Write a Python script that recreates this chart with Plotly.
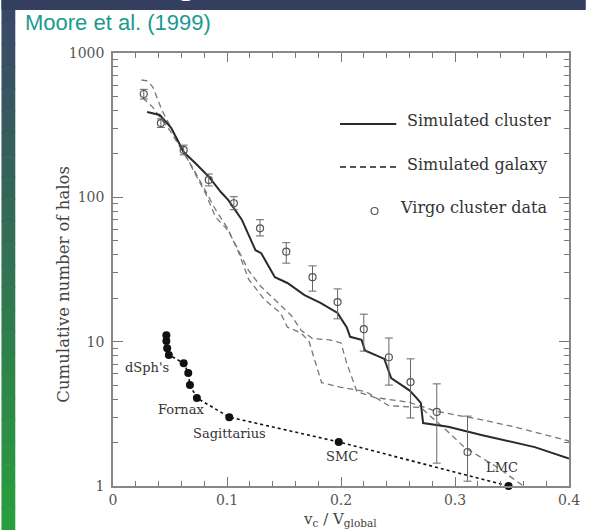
import plotly.graph_objects as go

# ---------------- data ----------------
virgo_x = [0.027, 0.042, 0.062, 0.084, 0.106, 0.129, 0.152, 0.175, 0.197, 0.220, 0.242, 0.261, 0.284, 0.311]
virgo_y = [520, 327, 213, 132, 91, 61, 42, 28, 18.8, 12.2, 7.8, 5.25, 3.26, 1.72]
virgo_hi = [560, 350, 230, 145, 101, 70, 48.5, 33.5, 23.2, 15.5, 10.6, 7.6, 5.1, 3.05]
virgo_lo = [480, 305, 197, 120, 82, 54, 35, 22.4, 14.4, 8.6, 5.0, 2.96, 1.44, 1.08]

cluster_x = [0.030, 0.041, 0.051, 0.062, 0.073, 0.084, 0.095, 0.101, 0.113, 0.125, 0.130, 0.142,
             0.153, 0.168, 0.182, 0.197, 0.2025, 0.205, 0.208, 0.218, 0.221, 0.238, 0.244, 0.260,
             0.266, 0.270, 0.272, 0.294, 0.324, 0.370, 0.400]
cluster_y = [390, 372, 303, 206, 170, 139, 108, 96, 70, 43, 41, 28,
             25.5, 21, 18.6, 15.8, 13.5, 12.6, 10.8, 10.3, 8.7, 7.6, 5.6, 4.6,
             4.1, 3.76, 2.73, 2.57, 2.25, 1.86, 1.55]

galA_x = [0.025, 0.030, 0.035, 0.043, 0.051, 0.062, 0.067, 0.081, 0.090, 0.101, 0.110, 0.119,
          0.130, 0.145, 0.156, 0.165, 0.175, 0.190, 0.200, 0.205, 0.210, 0.214, 0.230, 0.260,
          0.283, 0.324, 0.352, 0.400]
galA_y = [650, 640, 580, 400, 303, 206, 173, 107, 73, 59, 43, 31,
          24, 18.5, 15.3, 12, 10.5, 10.3, 9.8, 7.1, 5.4, 4.5, 4.1, 3.8,
          3.3, 2.87, 2.57, 2.05]

galB_x = [0.026, 0.035, 0.041, 0.050, 0.060, 0.070, 0.080, 0.090, 0.100, 0.110, 0.119, 0.133,
          0.147, 0.153, 0.165, 0.172, 0.178, 0.183, 0.199, 0.222, 0.242, 0.270, 0.295, 0.308,
          0.337, 0.360]
galB_y = [490, 420, 360, 290, 215, 160, 115, 82, 62, 42, 27, 19.5,
          15.8, 12.6, 11.5, 10, 7, 5.2, 4.85, 4.5, 3.6, 3.5, 2.33, 1.86,
          1.35, 1.0]

sat_x = [0.0468, 0.0468, 0.0475, 0.049, 0.062, 0.066, 0.0675, 0.0736, 0.102, 0.198, 0.347]
sat_y = [11.1, 10.1, 9.0, 8.1, 7.1, 6.07, 5.0, 4.07, 3.0, 2.02, 1.0]

x_ticks = [0, 0.1, 0.2, 0.3, 0.4]
x_ticktext = ["0", "0.1", "0.2", "0.3", "0.4"]
y_ticks = [1, 10, 100, 1000]
y_ticktext = ["1", "10", "100", "1000"]
y_minor = [2, 3, 4, 5, 6, 7, 8, 9, 20, 30, 40, 50, 60, 70, 80, 90,
           200, 300, 400, 500, 600, 700, 800, 900]

SERIF = "DejaVu Serif"
INK = "#333333"

fig = go.Figure()

fig.add_trace(go.Scatter(x=galA_x, y=galA_y, mode="lines",
                         line=dict(color="#777777", width=1.3, dash="6px,4px")))
fig.add_trace(go.Scatter(x=galB_x, y=galB_y, mode="lines",
                         line=dict(color="#777777", width=1.3, dash="6px,4px")))
fig.add_trace(go.Scatter(x=cluster_x, y=cluster_y, mode="lines",
                         line=dict(color="#2a2a2a", width=2)))
fig.add_trace(go.Scatter(
    x=virgo_x, y=virgo_y, mode="markers",
    marker=dict(symbol="circle-open", size=7, color="#555555", line=dict(width=1.2)),
    error_y=dict(type="data", symmetric=False,
                 array=[h - v for h, v in zip(virgo_hi, virgo_y)],
                 arrayminus=[v - l for v, l in zip(virgo_y, virgo_lo)],
                 color="#666666", thickness=1, width=4)))
fig.add_trace(go.Scatter(x=sat_x, y=sat_y, mode="lines+markers", cliponaxis=False,
                         line=dict(color="#111111", width=1.6, dash="dot"),
                         marker=dict(size=8, color="#111111")))

fig.update_xaxes(range=[0, 0.4], tickvals=x_ticks, ticktext=x_ticktext,
                 ticks="inside", ticklen=9, tickwidth=1.2, tickcolor="#777777",
                 showline=True, linecolor="#888888", linewidth=1.5, mirror="ticks",
                 showgrid=False, zeroline=False,
                 tickfont=dict(family=SERIF, size=14, color="#555555"),
                 minor=dict(dtick=0.02, ticks="inside", ticklen=5, tickcolor="#777777", showgrid=False))
fig.update_yaxes(type="log", range=[0, 3], tickvals=y_ticks, ticktext=y_ticktext,
                 ticks="inside", ticklen=10, tickwidth=1.2, tickcolor="#777777",
                 showline=True, linecolor="#888888", linewidth=1.5, mirror="ticks",
                 showgrid=False, zeroline=False, ticklabelstandoff=4,
                 tickfont=dict(family=SERIF, size=14, color="#555555"),
                 minor=dict(tickmode="array", tickvals=y_minor, ticks="inside", ticklen=5,
                            tickcolor="#777777", showgrid=False))

W, H = 592, 530
L, R, T, B = 113, 17, 53, 44
PW, PH = W - L - R, H - T - B


def px(xp):
    return (xp - L) / PW


def py(yp):
    return (H - B - yp) / PH


shapes = []
# slide background: left gradient strip
n = 24
top_c = (58, 72, 104)
bot_c = (42, 158, 62)
for i in range(n):
    t = i / (n - 1)
    c = tuple(int(top_c[k] + (bot_c[k] - top_c[k]) * t) for k in range(3))
    y0p = H * i / n
    y1p = H * (i + 1) / n + 1
    shapes.append(dict(type="rect", xref="paper", yref="paper",
                       x0=px(0), x1=px(14), y0=py(y1p), y1=py(y0p),
                       fillcolor="rgb(%d,%d,%d)" % c, line=dict(width=0), layer="above"))
# top dark strip
shapes.append(dict(type="rect", xref="paper", yref="paper",
                   x0=px(0), x1=px(W), y0=py(10), y1=py(0),
                   fillcolor="rgb(52,62,94)", line=dict(width=0), layer="above"))
# legend samples
shapes.append(dict(type="line", xref="paper", yref="paper", x0=px(343), x1=px(400),
                   y0=py(124), y1=py(124), line=dict(color="#2a2a2a", width=2)))
shapes.append(dict(type="line", xref="paper", yref="paper", x0=px(343), x1=px(400),
                   y0=py(167), y1=py(167), line=dict(color="#555555", width=2, dash="6px,4px")))
shapes.append(dict(type="circle", xref="paper", yref="paper", x0=px(374.5), x1=px(381.5),
                   y0=py(214.5), y1=py(207.5), line=dict(color="#555555", width=1.2)))

ann = []
ann.append(dict(text="Moore et al. (1999)", xref="paper", yref="paper", x=px(22), y=py(22),
                xanchor="left", yanchor="middle", showarrow=False,
                font=dict(family="Liberation Sans", size=22, color="#1b9a8e")))
ann.append(dict(text="g", xref="paper", yref="paper", x=px(187), y=py(-21),
                xanchor="center", yanchor="middle", showarrow=False,
                font=dict(family="Liberation Sans", size=40, color="white")))
for txt, xp, yp, fs in [("Simulated cluster", 409, 120, 16), ("Simulated galaxy", 409, 164, 16),
                        ("Virgo cluster data", 402, 207, 16)]:
    ann.append(dict(text=txt, xref="paper", yref="paper", x=px(xp), y=py(yp),
                    xanchor="left", yanchor="middle", showarrow=False,
                    font=dict(family=SERIF, size=fs, color=INK)))
for txt, xp, yp in [("dSph's", 147, 367), ("Fornax", 182, 409), ("Sagittarius", 231, 433),
                    ("SMC", 345, 456), ("LMC", 507, 467)]:
    ann.append(dict(text=txt, xref="paper", yref="paper", x=px(xp), y=py(yp),
                    xanchor="center", yanchor="middle", showarrow=False,
                    font=dict(family=SERIF, size=13, color=INK)))
ann.append(dict(text="Cumulative number of halos", xref="paper", yref="paper",
                x=px(62), y=py(284), textangle=-90, xanchor="center", yanchor="middle",
                showarrow=False, font=dict(family=SERIF, size=16.5, color="#444444")))
ann.append(dict(text="v<sub>c</sub> / V<sub>global</sub>", xref="paper", yref="paper",
                x=px(343), y=py(519), xanchor="center", yanchor="middle",
                showarrow=False, font=dict(family=SERIF, size=15, color="#444444")))

fig.update_layout(width=W, height=H, margin=dict(l=L, r=R, t=T, b=B),
                  paper_bgcolor="white", plot_bgcolor="white", showlegend=False,
                  shapes=shapes, annotations=ann)

fig.write_html("out.html")
